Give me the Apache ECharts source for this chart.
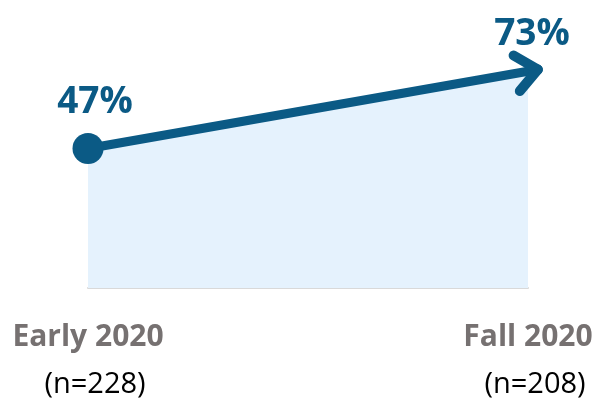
<!DOCTYPE html>
<html>
<head>
<meta charset="utf-8">
<script src="https://cdn.jsdelivr.net/npm/echarts@6/dist/echarts.min.js"></script>
<style>
  html, body { margin: 0; padding: 0; background: #fff; }
  #chart { width: 605px; height: 400px; }
</style>
</head>
<body>
<div id="chart"></div>
<script>
// data
var periods = ['Early 2020', 'Fall 2020'];
var sampleSizes = ['(n=228)', '(n=208)'];
var shares = [47, 73];

var blue = '#0B5A85';
var chart = echarts.init(document.getElementById('chart'));

// arrow head drawn at the last point, along the line direction
var renderArrow = function (params, api) {
    var last = shares.length - 1;
    if (params.dataIndex !== last) return;
    var p0 = api.coord([last - 1, shares[last - 1]]);
    var p1 = api.coord([last, shares[last]]);
    var dx = p1[0] - p0[0], dy = p1[1] - p0[1];
    var len = Math.sqrt(dx * dx + dy * dy);
    dx /= len; dy /= len;
    var tip = [p1[0] + dx * 10, p1[1] + dy * 10];
    var armLen = 28, ang = 40 * Math.PI / 180;
    var bx = -dx, by = -dy;
    var up = [tip[0] + armLen * (bx * Math.cos(ang) - by * Math.sin(ang)),
              tip[1] + armLen * (bx * Math.sin(ang) + by * Math.cos(ang))];
    var down = [tip[0] + armLen * (bx * Math.cos(-ang) - by * Math.sin(-ang)),
                tip[1] + armLen * (bx * Math.sin(-ang) + by * Math.cos(-ang))];
    var st = { stroke: blue, lineWidth: 10, fill: null, lineCap: 'round', lineJoin: 'round' };
    return {
        type: 'group',
        children: [
            { type: 'line', shape: { x1: p1[0], y1: p1[1], x2: tip[0], y2: tip[1] }, style: st },
            { type: 'polyline', shape: { points: [up, tip, down] }, style: st }
        ]
    };
};

var option = {
    animation: false,
    grid: { left: 88, right: 77, top: 0, bottom: 112 },
    xAxis: {
        type: 'category',
        data: periods,
        boundaryGap: false,
        axisLine: { lineStyle: { color: '#D9D9D9', width: 2 } },
        axisTick: { show: false },
        axisLabel: {
            interval: 0,
            margin: 26,
            formatter: function (v, i) {
                return '{b|' + v + '}\n{n|' + sampleSizes[i] + '}';
            },
            rich: {
                b: { fontFamily: 'Open Sans', fontWeight: 'bold', fontSize: 30, color: '#767171', lineHeight: 46 },
                n: { fontFamily: 'Open Sans', fontSize: 29, color: '#000', lineHeight: 50, padding: [0, 0, 0, 14] }
            }
        }
    },
    yAxis: {
        type: 'value',
        min: 0,
        max: 97,
        show: false,
        splitLine: { show: false }
    },
    series: [
        {
            type: 'line',
            data: shares.map(function (v, i) {
                return {
                    value: v,
                    symbol: 'circle',
                    symbolSize: i === 0 ? 31 : 0,
                    label: i === 0 ? { offset: [7, 6] } : { offset: [4, 0] }
                };
            }),
            lineStyle: { color: blue, width: 9 },
            itemStyle: { color: blue },
            areaStyle: { color: '#E5F2FD', opacity: 1 },
            label: {
                show: true,
                position: 'top',
                distance: 18,
                formatter: '{c}%',
                fontFamily: 'Open Sans',
                fontWeight: 'bold',
                fontSize: 37,
                color: blue
            },
            z: 3
        },
        {
            type: 'custom',
            data: shares.map(function (v, i) { return [i, v]; }),
            renderItem: renderArrow,
            z: 4
        }
    ]
};

chart.setOption(option);
</script>
</body>
</html>
